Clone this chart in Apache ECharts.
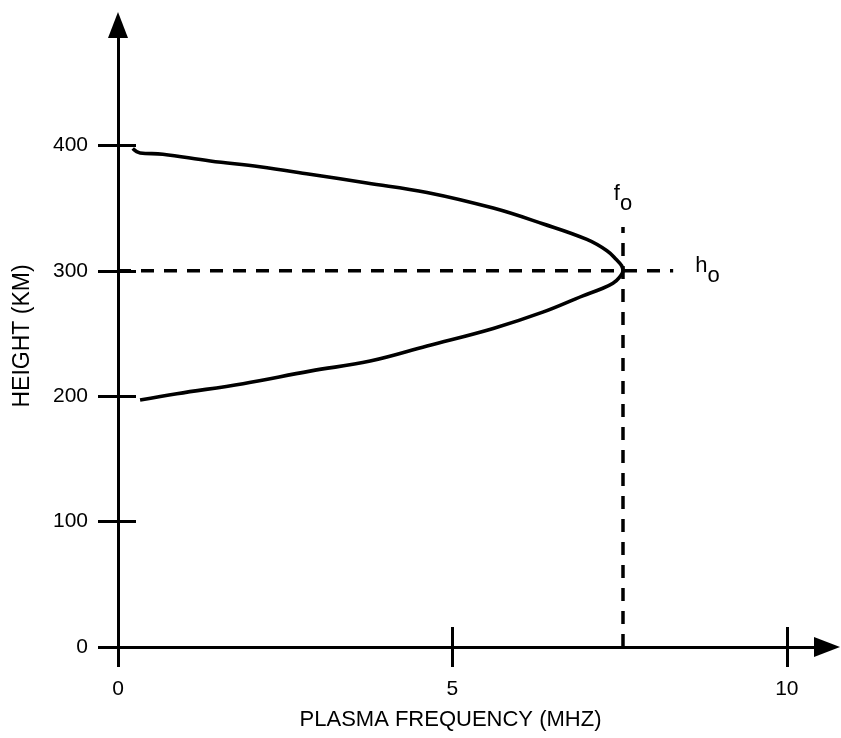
<!DOCTYPE html>
<html><head><meta charset="utf-8">
<script src="https://cdn.jsdelivr.net/npm/echarts@6/dist/echarts.min.js"></script>
<style>html,body{margin:0;padding:0;background:#fff}#c{width:841px;height:738px}</style>
</head><body><div id="c"></div>
<script>
// Upper branch of the profile (from the start near 400 km to the peak)
const upperFreq   = [0.22, 0.33, 0.67, 1.38, 2.12, 2.87, 3.72, 4.62, 5.61, 6.35, 7.01, 7.31, 7.45, 7.53, 7.55];
const upperHeight = [397.5, 394, 393, 387.5, 383, 377, 370, 362.5, 350, 337.5, 325, 316, 309, 304, 300];
// Lower branch (from the peak down to ~200 km)
const lowerFreq   = [7.50, 7.40, 7.22, 6.95, 6.35, 5.61, 4.62, 3.77, 2.87, 1.87, 0.88, 0.33];
const lowerHeight = [295, 290, 285.5, 280, 267, 254, 240, 228, 220, 210, 202, 197];
// Critical frequency / peak height reference lines
const foValue = 7.55;
const hoValue = 300;
const foLineTop = 335;
const hoLineEnd = 8.3;
// Ticks & titles
const xTickValues = [0, 5, 10];
const xInnerTicks = [5, 10];
const yTickValues = [0, 100, 200, 300, 400];
const yInnerTicks = [100, 200, 300, 400];
const xTitle = 'PLASMA FREQUENCY (MHZ)';
const yTitle = 'HEIGHT (KM)';

const FONT = '"Liberation Sans", Arial, Helvetica, sans-serif';
const BLACK = '#000';
const profile = upperFreq.map((f, i) => [f, upperHeight[i]])
  .concat(lowerFreq.map((f, i) => [f, lowerHeight[i]]));

const subRich = {
  m: {fontSize: 22, fontFamily: FONT, color: BLACK, verticalAlign: 'top', lineHeight: 32},
  o: {fontSize: 22, fontFamily: FONT, color: BLACK, verticalAlign: 'bottom', lineHeight: 32}
};

const chart = echarts.init(document.getElementById('c'), null, {renderer: 'canvas'});
const tickStyle = {color: BLACK, width: 3};
const option = {
  animation: false,
  backgroundColor: '#fff',
  grid: {left: 118, right: 14, top: 25, bottom: 91, containLabel: false},
  xAxis: [{
    type: 'value', min: 0, max: 10.6, position: 'bottom',
    axisLine: {show: true, onZero: false, symbol: ['none', 'triangle'], symbolSize: [20, 26],
      lineStyle: {color: BLACK, width: 3}},
    axisTick: {show: true, inside: false, length: 20, customValues: xTickValues, lineStyle: tickStyle},
    axisLabel: {show: true, customValues: xTickValues, margin: 32, fontSize: 21, color: BLACK, fontFamily: FONT},
    splitLine: {show: false},
    name: xTitle, nameLocation: 'middle', nameGap: 62,
    nameTextStyle: {fontSize: 22, color: BLACK, fontFamily: FONT, padding: [0, 44, 0, 0]}
  }, {
    type: 'value', min: 0, max: 10.6, position: 'bottom',
    axisLine: {show: false},
    axisTick: {show: true, inside: true, length: 20, customValues: xInnerTicks, lineStyle: tickStyle},
    axisLabel: {show: false}, splitLine: {show: false}
  }],
  yAxis: [{
    type: 'value', min: 0, max: 496, position: 'left',
    axisLine: {show: true, onZero: false, symbol: ['none', 'triangle'], symbolSize: [20, 26],
      lineStyle: {color: BLACK, width: 3}},
    axisTick: {show: true, inside: false, length: 20, customValues: yTickValues, lineStyle: tickStyle},
    axisLabel: {show: true, customValues: yTickValues, margin: 30, fontSize: 21, color: BLACK, fontFamily: FONT},
    splitLine: {show: false},
    name: yTitle, nameLocation: 'middle', nameGap: 84,
    nameTextStyle: {fontSize: 23, color: BLACK, fontFamily: FONT}
  }, {
    type: 'value', min: 0, max: 496, position: 'left',
    axisLine: {show: false},
    axisTick: {show: true, inside: true, length: 18, customValues: yInnerTicks, lineStyle: tickStyle},
    axisLabel: {show: false}, splitLine: {show: false}
  }],
  series: [{
    type: 'line', xAxisIndex: 0, yAxisIndex: 0, data: profile,
    showSymbol: false, smooth: 0.4, silent: true,
    lineStyle: {color: BLACK, width: 3.6}
  }, {
    type: 'line', xAxisIndex: 0, yAxisIndex: 0,
    data: [[0, hoValue], {value: [hoLineEnd, hoValue], label: {show: true, position: 'right', distance: 22,
      formatter: '{m|h}{o|o}', rich: subRich}}],
    symbol: 'circle', symbolSize: 0, showSymbol: true, silent: true,
    lineStyle: {color: BLACK, width: 3.5, type: [13, 10]}
  }, {
    type: 'line', xAxisIndex: 0, yAxisIndex: 0,
    data: [[foValue, 0], {value: [foValue, foLineTop], label: {show: true, position: 'top', distance: 12,
      formatter: '{m|f}{o|o}', rich: subRich}}],
    symbol: 'circle', symbolSize: 0, showSymbol: true, silent: true,
    lineStyle: {color: BLACK, width: 3.5, type: [13, 10]}
  }]
};
chart.setOption(option);
</script>
</body></html>
